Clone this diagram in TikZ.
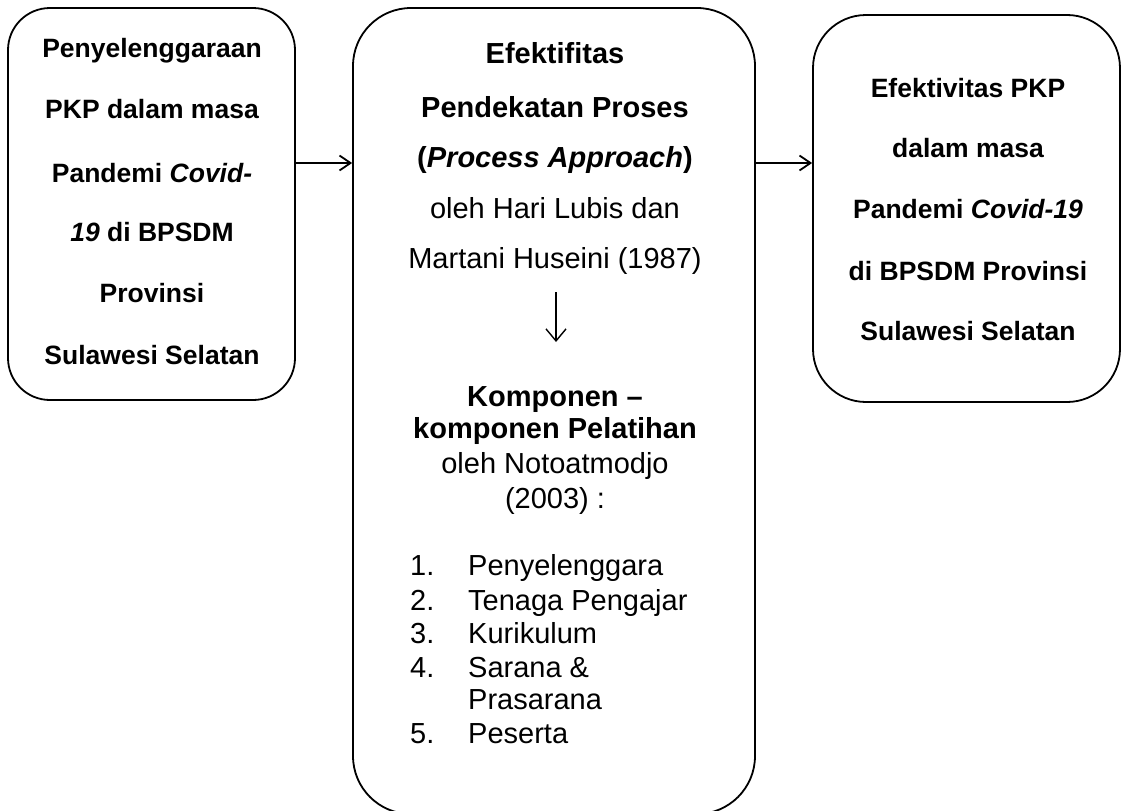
\documentclass[tikz,border=0pt]{standalone}
\usepackage{fontspec}
\setmainfont{Liberation Sans}
\usetikzlibrary{arrows.meta}
\begin{document}
\begin{tikzpicture}[x=1pt,y=-1pt,
  box/.style={draw, line width=1.8pt, inner sep=0pt},
  bt/.style={font=\fontsize{26.5}{30}\selectfont\bfseries, anchor=base, inner sep=0pt},
  mt/.style={font=\fontsize{29}{33}\selectfont\bfseries, anchor=base, inner sep=0pt},
  mr/.style={font=\fontsize{29}{33}\selectfont, anchor=base, inner sep=0pt},
  li/.style={font=\fontsize{29}{33}\selectfont, anchor=base west, inner sep=0pt},
  arr/.style={line width=1.8pt, -{Straight Barb[length=11pt,width=15pt]}},
  darr/.style={line width=1.4pt, -{Straight Barb[length=12pt,width=20pt]}},
]
\useasboundingbox (0,0) rectangle (1122,811);
% boxes
\node[box, rounded corners=42pt, minimum width=287pt, minimum height=392pt] (L) at (151.5,204) {};
\node[box, rounded corners=58pt, minimum width=402pt, minimum height=806pt] (M) at (554,411) {};
\node[box, rounded corners=53pt, minimum width=307pt, minimum height=387pt] (R) at (966.5,208.5) {};
% connectors
\coordinate (ya) at (0,163);
\draw[arr] (L.east |- ya) -- (M.west |- ya);
\draw[arr] (M.east |- ya) -- (R.west |- ya);
\coordinate (d1) at (556,292);
\coordinate (d2) at (556,342);
\draw[darr] (d1) -- (d2);
% left text
\node[bt] (l1) at (152,57) {Penyelenggaraan};
\node[bt] (l2) at (152,118) {PKP dalam masa};
\node[bt] (l3) at (152,182) {Pandemi \textit{Covid-}};
\node[bt] (l4) at (152,241) {\textit{19} di BPSDM};
\node[bt] (l5) at (152,302) {Provinsi};
\node[bt] (l6) at (152,364) {Sulawesi Selatan};
% right text
\node[bt] (r1) at (968,97) {Efektivitas PKP};
\node[bt] (r2) at (968,157) {dalam masa};
\node[bt] (r3) at (968,218) {Pandemi \textit{Covid-19}};
\node[bt] (r4) at (968,280) {di BPSDM Provinsi};
\node[bt] (r5) at (968,340) {Sulawesi Selatan};
% middle text
\node[mt] (m1) at (555,63) {Efektifitas};
\node[mt] (m2) at (555,117) {Pendekatan Proses};
\node[mt] (m3) at (555,167) {(\textit{Process Approach})};
\node[mr] (m4) at (555,218) {oleh Hari Lubis dan};
\node[mr] (m5) at (555,268) {Martani Huseini (1987)};
\node[mt] (m6) at (555,406) {Komponen –};
\node[mt] (m7) at (555,438) {komponen Pelatihan};
\node[mr] (m8) at (555,473) {oleh Notoatmodjo};
\node[mr] (m9) at (555,508) {(2003) :};
% list
\node[li] (n1) at (410,575) {1.};
\node[li] (i1) at (468,575) {Penyelenggara};
\node[li] (n2) at (410,610) {2.};
\node[li] (i2) at (468,610) {Tenaga Pengajar};
\node[li] (n3) at (410,643) {3.};
\node[li] (i3) at (468,643) {Kurikulum};
\node[li] (n4) at (410,677) {4.};
\node[li] (i4) at (468,677) {Sarana \&};
\node[li] (i4b) at (468,709) {Prasarana};
\node[li] (n5) at (410,743) {5.};
\node[li] (i5) at (468,743) {Peserta};
\end{tikzpicture}
\end{document}
